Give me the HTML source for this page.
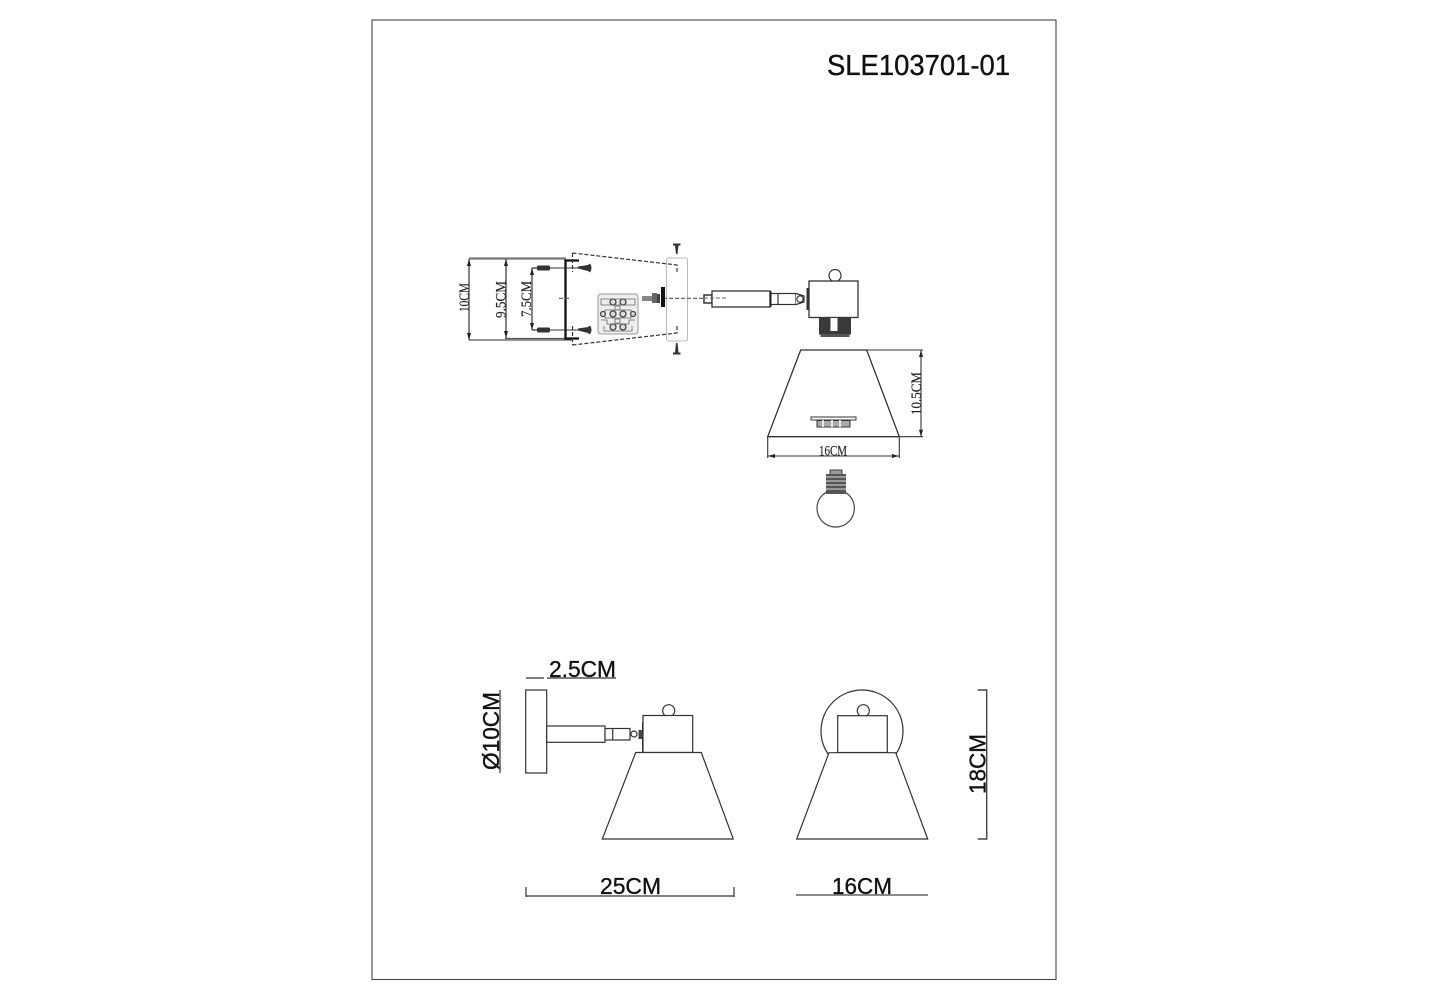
<!DOCTYPE html>
<html><head><meta charset="utf-8"><style>
html,body{margin:0;padding:0;background:#fff}
svg{display:block}
.s{font-family:"Liberation Sans",sans-serif;fill:#111;stroke:#111;stroke-width:.35}
.m{font-family:"Liberation Serif",serif;fill:#222;stroke:#222;stroke-width:.15}
</style></head><body>
<svg width="1429" height="1000" viewBox="0 0 1429 1000" xmlns="http://www.w3.org/2000/svg">
<rect width="1429" height="1000" fill="#fff"/>
<rect x="372" y="20" width="684" height="959.5" fill="none" stroke="#444" stroke-width="1.1"/>
<text class="s" x="827" y="75" font-size="28.5" textLength="183" lengthAdjust="spacingAndGlyphs">SLE103701-01</text>

<!-- mounting view -->
<g fill="none" stroke="#333" stroke-width="1.2">
<path d="M469 258.5H566" stroke="#777" stroke-width="2.2"/>
<path d="M469 340H572" stroke="#555" stroke-width="1.3"/>
<path d="M505 338.5H566" stroke="#555"/>
<path d="M469 259V340M506 259V338M532 268V330"/>
<path d="M532 268H537M532 330H537"/>
<rect x="666.5" y="258" width="21" height="83" rx="2" stroke="#bbb" stroke-width="1"/>
</g>
<g fill="#222">
<path d="M469 259l-2 7h4zM469 340l-2-7h4zM506 259l-2 7h4zM506 338l-2-7h4zM532 268l-2 7h4zM532 330l-2-7h4z"/>
</g>
<text class="m" transform="translate(469 312) rotate(-90)" font-size="14.5" textLength="29" lengthAdjust="spacingAndGlyphs">10CM</text>
<text class="m" transform="translate(505.5 318) rotate(-90)" font-size="15" textLength="37" lengthAdjust="spacingAndGlyphs">9.5CM</text>
<text class="m" transform="translate(531 317) rotate(-90)" font-size="15" textLength="36" lengthAdjust="spacingAndGlyphs">7.5CM</text>
<path d="M579 260.5H565.5V338.5H579" fill="none" stroke="#111" stroke-width="2.3"/>
<g fill="none" stroke="#333" stroke-width="1.2" stroke-dasharray="4 2">
<path d="M572.5 253L677 265V272M572.5 345L677 333V326M572.5 253V272M572.5 326V345"/>
<path d="M559 298.3H569M663 298.3H727" stroke="#555"/>
</g>
<g stroke="#333" stroke-width="1">
<path d="M550 268H578M550 330H578"/>
</g>
<g fill="#333">
<rect x="537" y="265.5" width="13" height="5" rx="1.5"/>
<rect x="537" y="327.5" width="13" height="5" rx="1.5"/>
<path d="M578 266.5L588 265L590 263.5Q593 267.5 590 272.5L588 271L578 268.5Z"/>
<path d="M578 328.5L588 327L590 325.5Q593 329.5 590 334.5L588 333L578 330.5Z"/>
<path d="M673 243.5H680.5V245.5H678.5L677.5 254H676L675 245.5H673Z"/>
<path d="M673 354.5H680.5V352.5H678.5L677.5 343H676L675 352.5H673Z"/>
<rect x="642" y="296" width="10" height="5" fill="#888"/>
<rect x="652" y="293" width="5" height="10" fill="#666"/>
<rect x="657" y="294" width="3" height="9" fill="#444"/>
<rect x="661" y="287" width="4" height="20" fill="#111"/>
</g>
<!-- terminal block -->
<rect x="598" y="294" width="40" height="40" rx="3" fill="#eee" stroke="#999"/>
<g fill="#ddd" stroke="#444" stroke-width="1.3">
<circle cx="613" cy="302" r="3"/><circle cx="623" cy="302" r="3"/>
<circle cx="603" cy="314" r="2.5"/><circle cx="613" cy="314" r="3"/><circle cx="623" cy="314" r="3"/><circle cx="633" cy="314" r="2.5"/>
<circle cx="613" cy="327" r="3"/><circle cx="623" cy="327" r="3"/>
</g>
<g fill="none" stroke="#666" stroke-width=".8">
<path d="M601 299H635V305H601ZM605 310H631V318H605ZM601 320H607V324H629V320H635M604 326V331H632V326"/>
<rect x="615" y="306" width="5" height="4"/><rect x="615" y="319" width="5" height="4"/>
</g>

<!-- exploded arm -->
<g fill="#fff" stroke="#333" stroke-width="1.2">
<rect x="704" y="295" width="8" height="8" stroke-width="1.5"/>
<rect x="712" y="291" width="58" height="16" stroke-width="1.3"/>
<rect x="770" y="293.5" width="26" height="11"/>
<path d="M778 293.5V304.5"/>
<path d="M796 293.5L804 296V302L796 304.5" />
<circle cx="800" cy="299" r="3.2"/>
<circle cx="835" cy="275.5" r="6"/>
<rect x="809" y="281" width="49" height="36.5" stroke-width="1.3"/>
</g>
<rect x="770" y="291" width="1.5" height="16" fill="#222"/>
<rect x="806.5" y="288" width="2.5" height="22" fill="#333"/>
<path d="M704 298H727" stroke="#666" stroke-dasharray="4 2" fill="none"/>
<rect x="819" y="317.5" width="32" height="17" fill="#3a3a3a"/>
<rect x="820.5" y="334" width="29" height="3" fill="#555"/>
<rect x="830.5" y="318" width="7" height="13" fill="#fff"/>

<!-- shade with dims -->
<path d="M800.7 350H866.7L899.3 436.7H767.7Z" fill="#fff" stroke="#333" stroke-width="1.3"/>
<path d="M866.7 350H923M899.3 436.7H923M921 350V436.7M767.7 437V458M899.3 437V458M768 456H899" fill="none" stroke="#333" stroke-width="1.1"/>
<path d="M921 350l-2 7h4zM921 436.7l-2-7h4zM768 456l7-2v4zM899 456l-7-2v4z" fill="#222"/>
<text class="m" transform="translate(921 415) rotate(-90)" font-size="15" textLength="43" lengthAdjust="spacingAndGlyphs">10.5CM</text>
<text class="m" x="819" y="455.5" font-size="15" textLength="28" lengthAdjust="spacingAndGlyphs">16CM</text>
<rect x="811" y="417" width="45" height="3" fill="#fff" stroke="#333"/>
<path d="M817 420.5H850V427H817Z" fill="#aaa" stroke="#333"/>
<path d="M823 420V427M832 420V427M840 420V427" stroke="#fff" stroke-width="1.5"/>

<!-- bulb -->
<circle cx="835.7" cy="508.3" r="18.7" fill="#fff" stroke="#444" stroke-width="1.2"/>
<rect x="826" y="474" width="20" height="20" fill="#555"/>
<path d="M826 477H846M826 481H846M826 485H846M826 489H846" stroke="#ddd" stroke-width="1"/>
<path d="M830 474V470H842V474" fill="#999" stroke="#444"/>

<!-- side view -->
<g fill="#fff" stroke="#333" stroke-width="1.2">
<rect x="525.7" y="690" width="21" height="83"/>
<rect x="546.7" y="726" width="58.3" height="16.3"/>
<rect x="605" y="728.5" width="25" height="11.5"/>
<path d="M612.7 728.5V740"/>
<circle cx="634" cy="734" r="3"/>
<circle cx="668.7" cy="710.7" r="6"/>
<rect x="643" y="715.5" width="49.7" height="37"/>
<path d="M635.7 752.5H701.3L733.3 839H602.3Z"/>
</g>
<rect x="642" y="722" width="1.5" height="30" fill="#333"/>
<rect x="638.5" y="730" width="3.5" height="9" fill="#444"/>
<path d="M526 678H544M547 678H616M500 690V773M526 887V897M734 887V897M526 896H734" fill="none" stroke="#333" stroke-width="1.2"/>
<text class="s" x="549" y="677" font-size="23.5" textLength="67" lengthAdjust="spacingAndGlyphs">2.5CM</text>
<text class="s" transform="translate(499 770) rotate(-90)" font-size="23.5" textLength="78" lengthAdjust="spacingAndGlyphs">Ø10CM</text>
<text class="s" x="600" y="894" font-size="23.5" textLength="61" lengthAdjust="spacingAndGlyphs">25CM</text>

<!-- front view -->
<circle cx="862" cy="731" r="41" fill="#fff" stroke="#333" stroke-width="1.2"/>
<circle cx="863.3" cy="710.7" r="6" fill="#fff" stroke="#333" stroke-width="1.2"/>
<rect x="837.7" y="715.7" width="49.6" height="36.8" fill="#fff" stroke="#333" stroke-width="1.2"/>
<path d="M829 752.7H895.7L927.7 839H796.7Z" fill="#fff" stroke="#333" stroke-width="1.2"/>
<path d="M977.7 690H986.7V839H977.7" fill="none" stroke="#444" stroke-width="1.4"/>
<path d="M796 895H928" stroke="#444" stroke-width="1.2"/>
<text class="s" x="832" y="894" font-size="23.5" textLength="60" lengthAdjust="spacingAndGlyphs">16CM</text>
<text class="s" transform="translate(985.5 794) rotate(-90)" font-size="23.5" textLength="60" lengthAdjust="spacingAndGlyphs">18CM</text>
</svg>
</body></html>
